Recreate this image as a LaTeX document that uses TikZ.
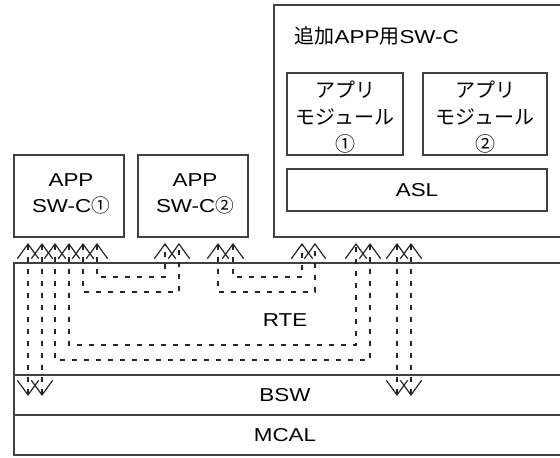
\documentclass[tikz,border=0pt]{standalone}
\usepackage{fontspec}
\setmainfont{Liberation Sans}[FakeStretch=1.2]
\newfontfamily\jp{Noto Sans CJK JP}
\usetikzlibrary{arrows.meta,fit}

\newcommand{\ja}[1]{{\jp\fontsize{15pt}{19.5pt}\selectfont #1}}

\tikzset{
  box/.style={draw=black!75, line width=1.1pt, inner sep=0pt},
  layer/.style={draw=black!75, line width=1.3pt, inner sep=0pt},
  txt/.style={font=\fontsize{14pt}{19.5pt}\selectfont, align=center},
  jtxt/.style={font=\jp\fontsize{15pt}{20pt}\selectfont, align=center},
  >={Straight Barb[length=11pt,width=16pt]},
  link/.style={<->, black!85, line width=0.9pt, dash pattern=on 4pt off 5pt},
}

\begin{document}
\begin{tikzpicture}[x=0.75pt,y=-0.75pt]
  \useasboundingbox (0,0) rectangle (560,457);
  \clip (0,0) rectangle (560,457);

  % Layers
  \node[layer, fit={(14,263) (566,375)}] (rte) {};
  \node[layer, fit={(14,375) (566,415)}] (bsw) {};
  \node[layer, fit={(14,415) (566,455)}] (mcal) {};
  \node[txt] (rtelbl) at (285,320) {RTE};
  \node[txt] (bswlbl) at (285,395) {BSW};
  \node[txt] (mcallbl) at (285,435) {MCAL};

  % Application SW-Cs
  \node[box, fit={(14,155) (124,237)}] (swc1) {};
  \node[txt] (swc1lbl) at (71,194) {APP\\SW-C{\jp ①}};
  \node[box, fit={(138,155) (248,237)}] (swc2) {};
  \node[txt] (swc2lbl) at (195,194) {APP\\SW-C{\jp ②}};

  % Added SW-C
  \node[box, fit={(274,5) (566,237)}] (addswc) {};
  \node[txt, anchor=west] (addlbl) at (290,36) {\ja{追加}APP\ja{用}SW-C};
  \node[box, fit={(287,73) (403,155)}] (mod1) {};
  \node[jtxt] (mod1lbl) at (345,117) {アプリ\\モジュール\\①};
  \node[box, fit={(423,73) (547,155)}] (mod2) {};
  \node[jtxt] (mod2lbl) at (485,117) {アプリ\\モジュール\\②};
  \node[box, fit={(287,169) (547,211)}] (asl) {};
  \node[txt] (asllbl) at (417,190) {ASL};

  % Ports
  \foreach \n/\x in {a1/28,a2/42,a3/55,a4/69,a5/83,a6/97,
                     b1/165,b2/179,b3/218,b4/233,
                     c1/302,c2/315,c3/356,c4/370,c5/397,c6/411}
    \coordinate (\n) at (\x,243);
  \foreach \n/\x in {d1/28,d2/42,d3/397,d4/411}
    \coordinate (\n) at (\x,396);

  % Connectors
  \draw[link] (a6) -- ++(0,34) -| (b1);
  \draw[link] (a5) -- ++(0,49) -| (b2);
  \draw[link] (b4) -- ++(0,34) -| (c1);
  \draw[link] (b3) -- ++(0,49) -| (c2);
  \draw[link] (a4) -- ++(0,102) -| (c3);
  \draw[link] (a3) -- ++(0,117) -| (c4);
  \draw[link] (a1) -- (d1);
  \draw[link] (a2) -- (d2);
  \draw[link] (c5) -- (d3);
  \draw[link] (c6) -- (d4);
\end{tikzpicture}
\end{document}
